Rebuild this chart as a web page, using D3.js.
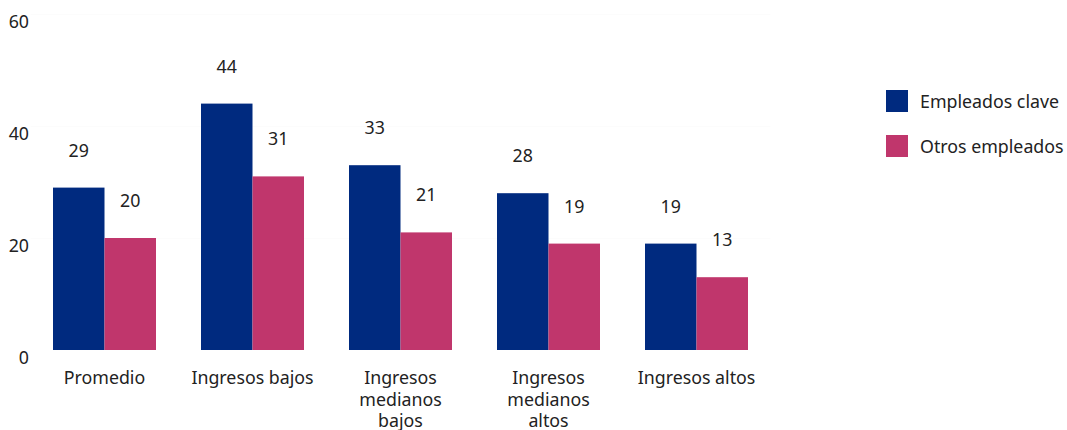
<!DOCTYPE html>
<html>
<head>
<meta charset="utf-8">
<script src="https://cdn.jsdelivr.net/npm/d3@7"></script>
<style>
  html, body { margin: 0; padding: 0; background: #fff; }
  svg { display: block; font-family: "Noto Sans", sans-serif; }
</style>
</head>
<body>
<svg id="chart" width="1067" height="430"></svg>
<script>
const categories = ["Promedio", "Ingresos bajos", "Ingresos medianos bajos", "Ingresos medianos altos", "Ingresos altos"];
const seriesNames = ["Empleados clave", "Otros empleados"];
const empleadosClave = [29, 44, 33, 28, 19];
const otrosEmpleados = [20, 31, 21, 19, 13];
const yTicks = [0, 20, 40, 60];
const colors = ["#002a7f", "#c0366c"];

const seriesValues = [empleadosClave, otrosEmpleados];
const data = categories.map((c, i) => ({ cat: c, vals: seriesNames.map((s, j) => ({ s, j, v: seriesValues[j][i] })) }));

const svg = d3.select("#chart");
const textColor = "#222";
const fs = 17.8;

const x0 = d3.scaleBand().domain(categories).range([30.5, 770.5])
  .paddingInner(45 / 148).paddingOuter(45 / 296);
const x1 = d3.scaleBand().domain(seriesNames).range([0, x0.bandwidth()]).padding(0);
const y = d3.scaleLinear().domain([0, 60]).range([350, 14]);

// very faint gridlines
svg.append("g").selectAll("line").data(yTicks.filter(t => t > 0)).join("line")
  .attr("x1", 30.5).attr("x2", 770.5)
  .attr("y1", d => Math.round(y(d)) + 0.5).attr("y2", d => Math.round(y(d)) + 0.5)
  .attr("stroke", "#fcfcfc").attr("stroke-width", 1);

// y axis labels
const yAxis = d3.axisLeft(y).tickValues(yTicks).tickSize(0).tickPadding(0);
const gy = svg.append("g").attr("transform", "translate(29,0)").call(yAxis);
gy.select(".domain").remove();
gy.selectAll("text").attr("font-size", fs).attr("fill", textColor)
  .attr("font-family", "Noto Sans, sans-serif").attr("dy", null).attr("y", 13).attr("x", 0);

// bars
const groups = svg.append("g").selectAll("g").data(data).join("g")
  .attr("transform", d => `translate(${x0(d.cat)},0)`);
groups.selectAll("rect").data(d => d.vals).join("rect")
  .attr("x", d => x1(d.s)).attr("width", x1.bandwidth())
  .attr("y", d => y(d.v)).attr("height", d => y(0) - y(d.v))
  .attr("fill", d => colors[d.j]);
groups.selectAll("text").data(d => d.vals).join("text")
  .attr("x", d => x1(d.s) + x1.bandwidth() / 2)
  .attr("y", d => y(d.v) - 31)
  .attr("text-anchor", "middle").attr("font-size", fs).attr("fill", textColor)
  .text(d => d3.format("d")(d.v));

// x axis labels with wrapping
const xAxis = d3.axisBottom(x0).tickSize(0).tickPadding(0);
const gx = svg.append("g").attr("transform", "translate(0,350)").call(xAxis);
gx.select(".domain").remove();
gx.selectAll(".tick text").each(function(d) {
  const t = d3.select(this);
  t.text(null).attr("font-size", fs).attr("fill", textColor).attr("font-family", "Noto Sans, sans-serif")
    .attr("y", 0).attr("dy", null);
  const lines = d.split(" ").length > 2 ? d.split(" ") : [d];
  lines.forEach((ln, i) => {
    t.append("tspan").attr("x", 0).attr("y", 34 + i * 21.5).text(ln);
  });
});

// legend
const legend = svg.append("g").attr("transform", "translate(886,90)");
const li = legend.selectAll("g").data(seriesNames).join("g")
  .attr("transform", (d, i) => `translate(0,${i * 45})`);
li.append("rect").attr("width", 22).attr("height", 22).attr("fill", (d, i) => colors[i]);
li.append("text").attr("x", 34).attr("y", 17.5)
  .attr("font-size", fs).attr("fill", textColor).text(d => d);
</script>
</body>
</html>
